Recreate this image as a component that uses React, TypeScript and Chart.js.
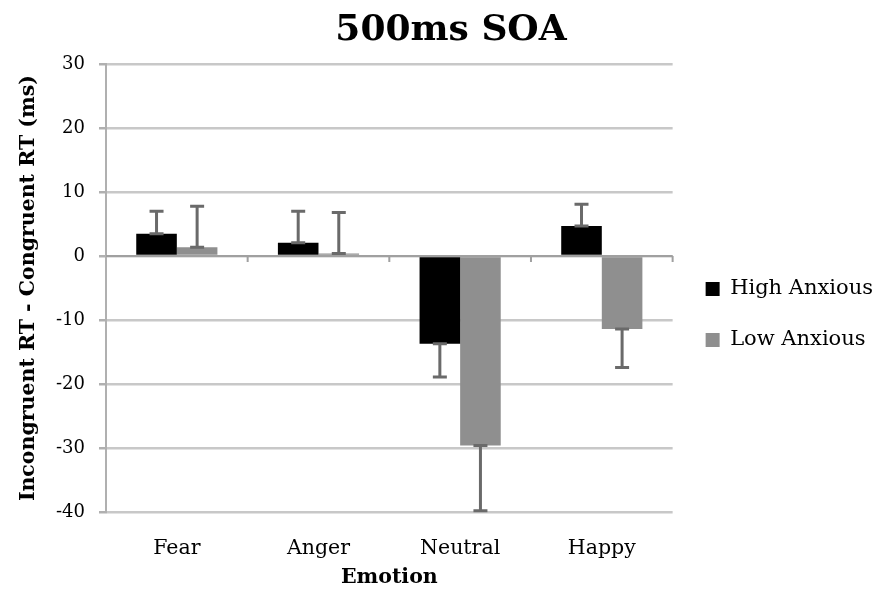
import React, { useEffect, useRef } from 'react';
import { Chart, registerables } from 'chart.js';

Chart.register(...registerables);

const categories = ['Fear', 'Anger', 'Neutral', 'Happy'];
const highAnxious = [3.5, 2.1, -13.7, 4.7];
const lowAnxious = [1.4, 0.4, -29.6, -11.4];
const highAnxiousErr = [3.5, 4.9, 5.2, 3.4];
const lowAnxiousErr = [6.4, 6.4, 10.2, 6.0];
const yMin = -40;
const yMax = 30;
const yStep = 10;

const SERIF = '"DejaVu Serif", serif';

const errorBarPlugin = {
  id: 'errorBars',
  afterDatasetsDraw(chart: any) {
    const ctx = chart.ctx;
    const yScale = chart.scales.y;
    const errs = [highAnxiousErr, lowAnxiousErr];
    ctx.save();
    ctx.strokeStyle = '#6a6a6a';
    ctx.lineWidth = 3;
    chart.data.datasets.forEach((ds: any, di: number) => {
      const meta = chart.getDatasetMeta(di);
      meta.data.forEach((el: any, i: number) => {
        const v = ds.data[i];
        const e = errs[di][i];
        const end = v >= 0 ? v + e : v - e;
        const y0 = yScale.getPixelForValue(v);
        const y1 = yScale.getPixelForValue(end);
        const x = el.x;
        const cap = 7;
        ctx.beginPath();
        ctx.moveTo(x, y0);
        ctx.lineTo(x, y1);
        ctx.moveTo(x - cap, y0);
        ctx.lineTo(x + cap, y0);
        ctx.moveTo(x - cap, y1);
        ctx.lineTo(x + cap, y1);
        ctx.stroke();
      });
    });
    ctx.restore();
  },
};

const zeroAxisPlugin = {
  id: 'zeroAxis',
  beforeDatasetsDraw(chart: any) {
    const ctx = chart.ctx;
    const yScale = chart.scales.y;
    const xScale = chart.scales.x;
    const area = chart.chartArea;
    const y0 = yScale.getPixelForValue(0);
    const n = categories.length;
    const w = (area.right - area.left) / n;
    ctx.save();
    ctx.strokeStyle = '#a0a0a0';
    ctx.lineWidth = 2;
    ctx.beginPath();
    ctx.moveTo(area.left, y0);
    ctx.lineTo(area.right, y0);
    for (let i = 1; i <= n; i++) {
      const x = xScale.left + w * i;
      ctx.moveTo(x, y0);
      ctx.lineTo(x, y0 + 6);
    }
    ctx.stroke();
    ctx.restore();
  },
};

const legendShiftPlugin = {
  id: 'legendShift',
  afterLayout(chart: any) {
    const lg = chart.legend;
    if (lg) {
      lg.left += 3;
      lg.right += 3;
    }
  },
};

export default function App() {
  const ref = useRef<HTMLCanvasElement | null>(null);
  useEffect(() => {
    if (!ref.current) return;
    const chart = new Chart(ref.current, {
      type: 'bar',
      data: {
        labels: categories,
        datasets: [
          {
            label: 'High Anxious',
            data: highAnxious,
            backgroundColor: '#000000',
            borderWidth: 0,
            categoryPercentage: 0.573,
            barPercentage: 1.0,
          },
          {
            label: 'Low Anxious',
            data: lowAnxious,
            backgroundColor: '#8f8f8f',
            borderWidth: 0,
            categoryPercentage: 0.573,
            barPercentage: 1.0,
          },
        ],
      },
      options: {
        animation: false,
        responsive: true,
        maintainAspectRatio: false,
        layout: { padding: { left: 22, right: -3, top: 0, bottom: 0 } },
        plugins: {
          title: {
            display: true,
            text: '500ms SOA',
            color: '#000',
            font: { family: SERIF, size: 36, weight: 'bold' },
            padding: { top: 9, bottom: 12 },
          },
          legend: {
            display: true,
            position: 'right',
            title: { display: true, text: ' ', padding: 10, font: { size: 14 } },
            labels: {
              color: '#000',
              boxWidth: 14,
              boxHeight: 14,
              padding: 30,
              font: { family: SERIF, size: 21 },
            },
          },
          tooltip: { enabled: false },
        },
        scales: {
          x: {
            afterFit(scale: any) {
              scale.height = 80;
            },
            grid: { display: false, drawTicks: false },
            border: { display: false },
            ticks: {
              color: '#000',
              padding: 24,
              font: { family: SERIF, size: 20.5 },
            },
            title: {
              display: true,
              text: 'Emotion',
              color: '#000',
              font: { family: SERIF, size: 20.5, weight: 'bold' },
              padding: { top: 0, bottom: 2 },
            },
          },
          y: {
            min: yMin,
            max: yMax,
            afterFit(scale: any) {
              scale.width = 84;
            },
            grid: {
              color: '#c8c8c8',
              lineWidth: 2.5,
              drawTicks: true,
              tickLength: 7,
              tickColor: '#b0b0b0',
            },
            border: { display: true, color: '#b0b0b0', width: 2 },
            ticks: {
              stepSize: yStep,
              color: '#000',
              padding: 14,
              font: { family: SERIF, size: 18 },
            },
            title: {
              display: true,
              text: 'Incongruent RT - Congruent RT (ms)',
              color: '#000',
              font: { family: SERIF, size: 20.5, weight: 'bold' },
              padding: { top: -6, bottom: 0 },
            },
          },
        },
      },
      plugins: [zeroAxisPlugin, errorBarPlugin, legendShiftPlugin],
    } as any);
    return () => chart.destroy();
  }, []);
  return (
    <div style={{ position: 'absolute', left: 0, top: 0, width: 877, height: 592 }}>
      <canvas ref={ref} />
    </div>
  );
}
